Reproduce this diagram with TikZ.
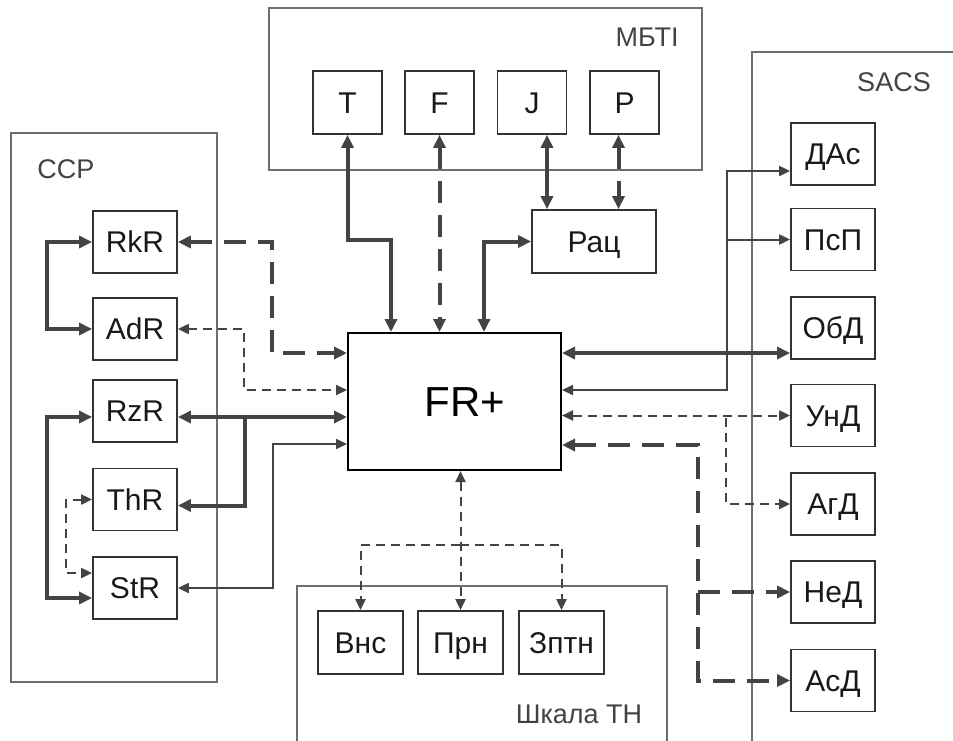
\documentclass[tikz,border=0pt]{standalone}
\usepackage{fontspec}
\setsansfont{Liberation Sans}
\usetikzlibrary{arrows.meta}

\definecolor{wire}{HTML}{434343}
\definecolor{frame}{HTML}{6E6E6E}

\begin{document}
\begin{tikzpicture}[
    x=1pt, y=-1pt,
    every node/.style={font=\sffamily},
    box/.style={draw=black!80, line width=1.8pt, minimum width=84pt,
        minimum height=62pt, inner sep=0pt, text=black!90,
        text height=21pt, text depth=0pt,
        font=\sffamily\fontsize{30}{32}\selectfont},
    panel/.style={draw=frame, line width=1.6pt},
    plabel/.style={text=wire, inner sep=0pt,
        font=\sffamily\fontsize{27}{30}\selectfont},
    thickline/.style={draw=wire, line width=4pt,
        >={Triangle[length=13pt,width=12pt]}},
    thinline/.style={draw=wire, line width=2pt,
        >={Triangle[length=11pt,width=10pt]}},
    thickdash/.style={thickline, dash pattern=on 22pt off 12pt},
    thindash/.style={thinline, dash pattern=on 9pt off 6pt}
]
\useasboundingbox (0,0) rectangle (953,740);

% Panels
\draw[panel] (11,133) rectangle (217,682);
\draw[panel] (269,8) rectangle (702,170);
\draw[panel] (752,742) -- (752,52) -- (956,52);
\draw[panel] (297,742) |- (667,586) -- (667,742);

% Panel labels
\node[plabel] (ccplbl) at (66,169) {ССР};
\node[plabel] (mbtilbl) at (647,37) {МБТІ};
\node[plabel] (sacslbl) at (894,82) {SACS};
\node[plabel] (tnlbl) at (579,714) {Шкала ТН};

% Central block
\node[draw=black, line width=2pt, minimum width=213pt, minimum height=137pt]
    (FR) at (454.5,401.5) {};
\node[inner sep=0pt, font=\sffamily\fontsize{42}{44}\selectfont] (FRtxt)
    at (465,402) {FR+};

% Left column
\node[box] (RkR) at (135,242) {RkR};
\node[box] (AdR) at (135,329) {AdR};
\node[box] (RzR) at (135,411) {RzR};
\node[box] (ThR) at (135,499.5) {ThR};
\node[box] (StR) at (135,588) {StR};

% MBTI row
\node[box, minimum width=69pt, minimum height=63pt] (T) at (347.5,102.5) {T};
\node[box, minimum width=69pt, minimum height=63pt] (F) at (439.5,102.5) {F};
\node[box, minimum width=69pt, minimum height=63pt] (J) at (532,102.5) {J};
\node[box, minimum width=69pt, minimum height=63pt] (P) at (624.5,102.5) {P};
\node[box, minimum width=124pt, minimum height=63pt] (Rac) at (594,241.5) {Рац};

% SACS column
\node[box] (DAs) at (833,154) {ДАс};
\node[box] (PsP) at (833,239.5) {ПсП};
\node[box] (ObD) at (833,328) {ОбД};
\node[box] (UnD) at (833,415.5) {УнД};
\node[box] (AgD) at (833,504) {АгД};
\node[box] (NeD) at (833,592) {НеД};
\node[box] (AsD) at (833,680.5) {АсД};

% Bottom scale
\node[box, minimum width=85pt, minimum height=63pt] (Vns) at (360.5,642.5) {Внс};
\node[box, minimum width=85pt, minimum height=63pt] (Prn) at (460.5,642.5) {Прн};
\node[box, minimum width=85pt, minimum height=63pt] (Zptn) at (561.5,642.5) {Зптн};

% Bend points
\coordinate (kbend) at (272,353);
\coordinate (dbend) at (244,390);
\coordinate (zbend) at (245,417);
\coordinate (sbend) at (273,444);
\coordinate (tbend) at (391,240);
\coordinate (rbend) at (484,242);
\coordinate (pbend) at (727,390);
\coordinate (ubend) at (726,418);
\coordinate (abend) at (698,445);
\coordinate (bbar) at (460,545);

% Left links
\draw[thickline, <->] (RkR.west) -- ++(-45,0) |- (AdR.west);
\draw[thickline, <->] ([yshift=-6pt]RzR.west) -- ++(-45,0) |- ([yshift=-10pt]StR.west);
\draw[thindash, <->] (ThR.west) -- ++(-26,0) |- ([yshift=15pt]StR.west);
\draw[thickdash, <->] (RkR.east) -| (kbend) -- (kbend -| FR.west);
\draw[thindash, <->] (AdR.east) -| (dbend) -- (dbend -| FR.west);
\draw[thickline, <->] ([yshift=-6pt]RzR.east) -- ([yshift=-6pt]RzR.east -| FR.west);
\draw[thickline, ->] (zbend) |- ([yshift=-6pt]ThR.east);
\draw[thinline, <->] (StR.east) -| (sbend) -- (sbend -| FR.west);

% Top links
\draw[thickline, <->] (T.south) |- (tbend) -- (tbend |- FR.north);
\draw[thickdash, <->] (F.south) -- (F.south |- FR.north);
\draw[thickline, <->] (rbend |- FR.north) |- (Rac.west);
\draw[thickline, <->] ([xshift=15pt]J.south) -- ([xshift=15pt]J.south |- Rac.north);
\draw[thickdash, <->] ([xshift=-6pt]P.south) -- ([xshift=-6pt]P.south |- Rac.north);

% Right links
\draw[thickline, <->] ([yshift=-25pt]ObD.west -| FR.east) -- ([yshift=-25pt]ObD.west);
\draw[thinline, <->] (pbend -| FR.east) -- (pbend) |- ([yshift=-17pt]DAs.west);
\draw[thinline, ->] (pbend |- PsP.west) -- (PsP.west);
\draw[thindash, <->] (UnD.west -| FR.east) -- (UnD.west);
\draw[thindash, ->] (ubend) |- (AgD.west);
\draw[thickdash, <->] (abend -| FR.east) -- (abend) |- (AsD.west);
\draw[thickdash, ->] (abend |- NeD.west) -- (NeD.west);

% Bottom links
\draw[thindash, <->] (Prn.north |- FR.south) -- (Prn.north);
\draw[thindash, ->] (bbar) -| (Vns.north);
\draw[thindash, ->] (bbar) -| (Zptn.north);

\end{tikzpicture}
\end{document}
